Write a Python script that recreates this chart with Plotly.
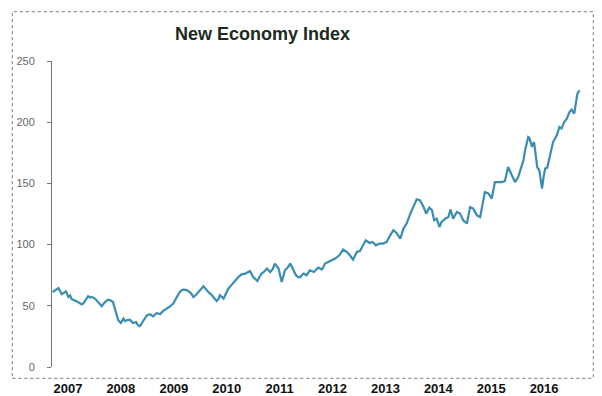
import pandas as pd
import plotly.graph_objects as go

# time in decimal years, index values
years_dec = [
    2006.71, 2006.75, 2006.82, 2006.85, 2006.88, 2006.92, 2006.96, 2007.01, 2007.04, 2007.07,
    2007.13, 2007.19, 2007.26, 2007.29, 2007.32, 2007.38, 2007.42, 2007.45, 2007.51, 2007.57,
    2007.60, 2007.64, 2007.67, 2007.70, 2007.76, 2007.80, 2007.85, 2007.87, 2007.89, 2007.92,
    2007.95, 2008.00, 2008.05, 2008.08, 2008.11, 2008.17, 2008.20, 2008.23, 2008.29, 2008.31,
    2008.35, 2008.38, 2008.41, 2008.45, 2008.49, 2008.55, 2008.61, 2008.68, 2008.74, 2008.80,
    2008.87, 2008.93, 2008.99, 2009.05, 2009.10, 2009.15, 2009.18, 2009.23, 2009.27, 2009.33,
    2009.37, 2009.42, 2009.46, 2009.51, 2009.56, 2009.62, 2009.67, 2009.72, 2009.76, 2009.81,
    2009.85, 2009.87, 2009.94, 2009.99, 2010.03, 2010.08, 2010.13, 2010.18, 2010.22, 2010.28,
    2010.35, 2010.41, 2010.44, 2010.50, 2010.54, 2010.58, 2010.62, 2010.66, 2010.71, 2010.76,
    2010.82, 2010.87, 2010.91, 2010.98, 2011.01, 2011.04, 2011.07, 2011.10, 2011.15, 2011.20,
    2011.23, 2011.27, 2011.31, 2011.35, 2011.39, 2011.45, 2011.51, 2011.57, 2011.65, 2011.73,
    2011.80, 2011.86, 2011.92, 2011.98, 2012.05, 2012.13, 2012.20, 2012.27, 2012.33, 2012.39,
    2012.46, 2012.52, 2012.58, 2012.63, 2012.70, 2012.76, 2012.82, 2012.89, 2012.95, 2013.02,
    2013.09, 2013.15, 2013.21, 2013.28, 2013.34, 2013.40, 2013.47, 2013.53, 2013.59, 2013.65,
    2013.72, 2013.77, 2013.83, 2013.88, 2013.92, 2013.97, 2014.02, 2014.06, 2014.13, 2014.19,
    2014.23, 2014.28, 2014.35, 2014.41, 2014.47, 2014.54, 2014.60, 2014.66, 2014.73, 2014.79,
    2014.84, 2014.88, 2014.95, 2015.01, 2015.07, 2015.13, 2015.20, 2015.26, 2015.32, 2015.39,
    2015.45, 2015.51, 2015.58, 2015.61, 2015.64, 2015.67, 2015.70, 2015.72, 2015.77, 2015.81,
    2015.85, 2015.87, 2015.91, 2015.94, 2015.96, 2015.99, 2016.02, 2016.06, 2016.11, 2016.17,
    2016.24, 2016.29, 2016.33, 2016.38, 2016.43, 2016.48, 2016.52, 2016.57, 2016.60, 2016.63,
    2016.67,
]
index_values = [
    61.3, 62.5, 64.5, 62.0, 59.5, 60.5, 61.8, 57.2, 58.5, 55.5,
    54.5, 53.1, 51.2, 52.0, 53.9, 57.8, 56.8, 57.2, 55.9, 53.1,
    51.0, 49.6, 51.5, 53.1, 55.0, 54.5, 53.1, 50.0, 46.3, 42.0,
    38.2, 36.0, 39.5, 37.5, 38.2, 38.7, 37.0, 36.0, 36.8, 35.0,
    33.3, 34.5, 36.8, 40.0, 42.2, 43.1, 41.4, 44.1, 43.1, 45.8,
    47.7, 49.5, 51.8, 56.0, 60.5, 62.7, 63.2, 63.0, 62.1, 60.0,
    57.2, 59.0, 61.3, 63.5, 65.9, 62.7, 60.5, 58.6, 56.5, 53.9,
    56.0, 58.6, 55.9, 60.0, 64.0, 66.5, 69.4, 71.5, 73.5, 75.7,
    76.3, 77.6, 78.4, 73.5, 72.0, 70.3, 73.5, 76.3, 78.0, 80.4,
    77.6, 80.0, 84.5, 80.4, 75.0, 69.4, 74.0, 79.0, 81.0, 84.5,
    82.0, 79.0, 75.0, 73.5, 73.5, 76.3, 74.9, 79.0, 77.6, 81.2,
    79.6, 84.5, 85.8, 87.2, 88.6, 91.3, 95.9, 94.0, 91.3, 87.7,
    94.0, 94.8, 99.4, 103.5, 101.3, 102.1, 99.4, 100.8, 100.8, 102.1,
    107.6, 111.7, 109.5, 104.9, 113.1, 117.2, 125.3, 131.0, 137.0, 136.2,
    130.7, 125.3, 130.2, 128.0, 119.9, 121.2, 114.4, 118.5, 121.2, 122.5,
    128.6, 121.2, 126.6, 125.3, 119.9, 117.2, 130.7, 129.4, 123.9, 122.5,
    134.8, 143.0, 141.7, 137.6, 151.1, 151.1, 151.1, 152.0, 163.4, 156.6,
    151.1, 155.2, 166.2, 169.0, 177.0, 182.5, 187.9, 187.4, 180.0, 183.8,
    172.0, 163.4, 160.7, 152.5, 145.8, 155.2, 162.1, 162.9, 171.6, 183.8,
    189.3, 196.1, 194.8, 200.2, 202.9, 208.3, 210.3, 207.0, 215.2, 223.4,
    226.1,
]
tick_years = [2007, 2008, 2009, 2010, 2011, 2012, 2013, 2014, 2015, 2016]
y_ticks = [0, 50, 100, 150, 200, 250]
x_range_years = [2006.6975, 2016.868]
title_text = "New Economy Index"


def to_date(y):
    base = int(y)
    return pd.Timestamp(base, 1, 1) + pd.Timedelta(days=(y - base) * 365.25)


dates = [to_date(y) for y in years_dec]
tick_dates = [pd.Timestamp(y, 1, 1) for y in tick_years]

fig = go.Figure()
fig.add_trace(go.Scatter(
    x=dates, y=index_values, mode="lines",
    line=dict(color="#3a8db2", width=2.2),
    showlegend=False, hoverinfo="skip",
))

# page body keeps its default 8px margin, so the figure is sized to fit the window
fig.update_layout(
    width=594, height=388,
    margin=dict(l=44, r=12, t=53, b=29, autoexpand=False),
    paper_bgcolor="white", plot_bgcolor="white",
    font=dict(family="Liberation Sans, Arial, sans-serif"),
    xaxis=dict(
        type="date", automargin=False,
        range=[to_date(x_range_years[0]), to_date(x_range_years[1])],
        tickvals=tick_dates, ticktext=[str(y) for y in tick_years],
        showgrid=False, zeroline=False, showline=False,
        ticks="", ticklabelstandoff=12,
        tickfont=dict(size=13, color="#111111", family="Liberation Sans, Arial, sans-serif", weight="bold"),
    ),
    yaxis=dict(
        range=[0, 250], tickvals=y_ticks, automargin=False,
        showgrid=False, zeroline=False,
        showline=True, linecolor="#777777", linewidth=1,
        ticks="outside", ticklen=4, tickcolor="#777777",
        ticklabelstandoff=10,
        tickfont=dict(size=11, color="#666666"),
    ),
    shapes=[dict(
        type="rect", xref="paper", yref="paper",
        x0=-0.0738, x1=1.0061, y0=-0.0369, y1=1.1611,
        line=dict(color="#777777", width=1, dash="dot"),
        fillcolor="rgba(0,0,0,0)", layer="below",
    )],
    annotations=[dict(
        text=title_text, xref="paper", yref="paper",
        x=0.392, y=1.088, xanchor="center", yanchor="middle",
        showarrow=False,
        font=dict(size=18, color="#1c2b1c", family="Liberation Sans, Arial, sans-serif", weight="bold"),
    )],
)

fig.write_html("out.html")
